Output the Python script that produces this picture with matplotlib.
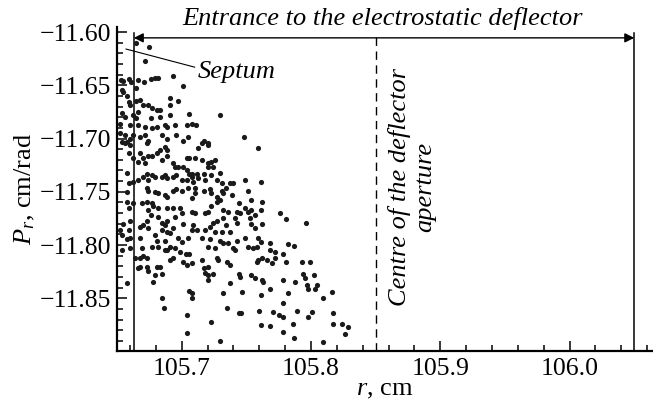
import numpy as np
import matplotlib.pyplot as plt
from matplotlib.ticker import MultipleLocator, FuncFormatter

plt.rcParams['font.family'] = ['Liberation Serif', 'DejaVu Serif']
plt.rcParams['mathtext.fontset'] = 'custom'
plt.rcParams['mathtext.rm'] = 'Liberation Serif'
plt.rcParams['mathtext.it'] = 'Liberation Serif:italic'

# particle coordinates (r, cm ; P_r, cm/rad) at the deflector entrance
upper_left = [
    (105.665, -11.610), (105.675, -11.614), (105.672, -11.627), (105.653, -11.645),
    (105.655, -11.646), (105.659, -11.644), (105.661, -11.647), (105.666, -11.645),
    (105.671, -11.647), (105.676, -11.644), (105.679, -11.643), (105.682, -11.643),
    (105.693, -11.641), (105.701, -11.651), (105.665, -11.653), (105.654, -11.654),
    (105.655, -11.656), (105.658, -11.660), (105.691, -11.662), (105.697, -11.665),
    (105.691, -11.669), (105.659, -11.666), (105.660, -11.669), (105.665, -11.665),
    (105.668, -11.664), (105.670, -11.669), (105.674, -11.669), (105.677, -11.671),
    (105.681, -11.673), (105.683, -11.673), (105.654, -11.676), (105.656, -11.680),
    (105.662, -11.678), (105.665, -11.681), (105.666, -11.675), (105.676, -11.681),
    (105.683, -11.680), (105.691, -11.678), (105.706, -11.677), (105.652, -11.686),
    (105.660, -11.687), (105.666, -11.687), (105.672, -11.689), (105.677, -11.690),
    (105.681, -11.689), (105.687, -11.687), (105.689, -11.689), (105.695, -11.687),
    (105.704, -11.687), (105.708, -11.686), (105.652, -11.695), (105.656, -11.697),
    (105.660, -11.700), (105.662, -11.697), (105.668, -11.699), (105.672, -11.697),
    (105.674, -11.702), (105.685, -11.697), (105.689, -11.700), (105.696, -11.697),
    (105.701, -11.702), (105.705, -11.699), (105.656, -11.704), (105.673, -11.704),
    (105.711, -11.687), (105.730, -11.678), (105.717, -11.702), (105.720, -11.704),
    (105.748, -11.699),
]

middle_left = [
    (105.654, -11.703), (105.658, -11.703), (105.660, -11.706), (105.659, -11.714),
    (105.662, -11.718), (105.668, -11.714), (105.666, -11.722), (105.670, -11.718),
    (105.672, -11.723), (105.674, -11.716), (105.677, -11.716), (105.681, -11.714),
    (105.683, -11.711), (105.687, -11.708), (105.689, -11.711), (105.689, -11.716),
    (105.685, -11.720), (105.693, -11.723), (105.695, -11.727), (105.697, -11.727),
    (105.701, -11.727), (105.704, -11.730), (105.706, -11.733), (105.704, -11.718),
    (105.706, -11.718), (105.658, -11.732), (105.659, -11.742), (105.658, -11.750),
    (105.662, -11.741), (105.666, -11.739), (105.670, -11.736), (105.673, -11.733),
    (105.674, -11.739), (105.677, -11.734), (105.679, -11.736), (105.685, -11.736),
    (105.687, -11.734), (105.689, -11.737), (105.693, -11.736), (105.696, -11.734),
    (105.700, -11.739), (105.704, -11.739), (105.708, -11.736), (105.673, -11.746),
    (105.674, -11.749), (105.679, -11.750), (105.682, -11.751), (105.687, -11.753),
    (105.689, -11.755), (105.693, -11.749), (105.696, -11.747), (105.700, -11.749),
    (105.705, -11.746), (105.708, -11.756), (105.658, -11.760), (105.659, -11.765),
    (105.662, -11.761), (105.669, -11.761), (105.673, -11.760), (105.674, -11.767),
    (105.677, -11.761), (105.678, -11.763), (105.682, -11.765), (105.689, -11.765),
    (105.693, -11.765), (105.699, -11.765), (105.700, -11.770), (105.695, -11.774),
    (105.689, -11.777), (105.685, -11.779), (105.682, -11.774), (105.676, -11.772),
    (105.673, -11.777), (105.670, -11.781), (105.668, -11.783), (105.674, -11.784),
    (105.660, -11.777), (105.655, -11.780), (105.652, -11.786), (105.659, -11.786),
    (105.654, -11.791), (105.660, -11.793), (105.658, -11.794), (105.668, -11.793),
    (105.687, -11.781), (105.685, -11.786), (105.689, -11.788), (105.691, -11.789),
    (105.693, -11.784), (105.697, -11.793), (105.700, -11.797), (105.679, -11.791),
    (105.681, -11.796), (105.687, -11.796), (105.691, -11.802), (105.682, -11.802),
    (105.677, -11.802), (105.669, -11.803), (105.660, -11.803), (105.705, -11.793),
    (105.708, -11.786), (105.701, -11.780),
]

middle_right = [
    (105.716, -11.704), (105.720, -11.706), (105.713, -11.709), (105.759, -11.709),
    (105.710, -11.718), (105.716, -11.720), (105.720, -11.723), (105.723, -11.722),
    (105.726, -11.720), (105.720, -11.727), (105.724, -11.727), (105.708, -11.733),
    (105.712, -11.733), (105.717, -11.733), (105.723, -11.734), (105.730, -11.732),
    (105.709, -11.741), (105.713, -11.737), (105.718, -11.739), (105.727, -11.739),
    (105.731, -11.742), (105.737, -11.742), (105.740, -11.742), (105.749, -11.739),
    (105.761, -11.741), (105.710, -11.746), (105.710, -11.751), (105.717, -11.749),
    (105.722, -11.747), (105.723, -11.751), (105.727, -11.755), (105.731, -11.749),
    (105.732, -11.751), (105.734, -11.746), (105.730, -11.758), (105.727, -11.760),
    (105.723, -11.763), (105.739, -11.753), (105.751, -11.749), (105.754, -11.758),
    (105.762, -11.760), (105.744, -11.761), (105.749, -11.765), (105.708, -11.769),
    (105.710, -11.770), (105.718, -11.770), (105.720, -11.769), (105.732, -11.767),
    (105.736, -11.769), (105.743, -11.769), (105.745, -11.770), (105.741, -11.775),
    (105.751, -11.769), (105.754, -11.767), (105.757, -11.772), (105.761, -11.767),
    (105.753, -11.775), (105.754, -11.780), (105.757, -11.784), (105.762, -11.780),
    (105.709, -11.781), (105.712, -11.786), (105.718, -11.786), (105.722, -11.783),
    (105.724, -11.779), (105.727, -11.777), (105.732, -11.775), (105.734, -11.781),
    (105.726, -11.788), (105.731, -11.788), (105.737, -11.788), (105.743, -11.779),
    (105.716, -11.793), (105.722, -11.794), (105.730, -11.796), (105.732, -11.798),
    (105.736, -11.798), (105.743, -11.796), (105.749, -11.793), (105.759, -11.793),
    (105.761, -11.797), (105.758, -11.802), (105.751, -11.802), (105.768, -11.798),
    (105.720, -11.802), (105.726, -11.803), (105.741, -11.805), (105.755, -11.803),
    (105.776, -11.770), (105.781, -11.776), (105.796, -11.779), (105.782, -11.799),
    (105.787, -11.801),
]

lower = [
    (105.654, -11.805), (105.664, -11.812), (105.668, -11.812), (105.670, -11.810),
    (105.673, -11.812), (105.666, -11.822), (105.668, -11.821), (105.673, -11.821),
    (105.674, -11.824), (105.681, -11.821), (105.683, -11.821), (105.679, -11.828),
    (105.685, -11.827), (105.678, -11.835), (105.658, -11.836), (105.687, -11.805),
    (105.689, -11.805), (105.691, -11.814), (105.693, -11.812), (105.695, -11.803),
    (105.699, -11.807), (105.703, -11.808), (105.701, -11.816), (105.704, -11.819),
    (105.706, -11.808), (105.708, -11.817), (105.716, -11.814), (105.717, -11.822),
    (105.720, -11.821), (105.718, -11.826), (105.720, -11.828), (105.720, -11.833),
    (105.724, -11.827), (105.727, -11.812), (105.728, -11.814), (105.735, -11.816),
    (105.737, -11.819), (105.740, -11.803), (105.744, -11.827), (105.745, -11.830),
    (105.737, -11.836), (105.754, -11.828), (105.757, -11.831), (105.762, -11.833),
    (105.763, -11.835), (105.758, -11.816), (105.759, -11.814), (105.762, -11.812),
    (105.766, -11.814), (105.770, -11.817), (105.768, -11.805), (105.772, -11.807),
    (105.772, -11.812), (105.778, -11.808), (105.781, -11.816), (105.768, -11.841),
    (105.778, -11.833), (105.782, -11.845), (105.788, -11.835), (105.793, -11.816),
    (105.794, -11.827), (105.799, -11.816), (105.797, -11.838), (105.798, -11.841),
    (105.802, -11.828), (105.803, -11.841), (105.805, -11.838), (105.809, -11.850),
    (105.816, -11.844), (105.795, -11.831), (105.685, -11.850), (105.686, -11.859),
    (105.706, -11.843), (105.708, -11.845), (105.708, -11.850), (105.704, -11.866),
    (105.704, -11.883), (105.723, -11.872), (105.732, -11.845), (105.735, -11.859),
    (105.744, -11.864), (105.746, -11.864), (105.747, -11.844), (105.761, -11.847),
    (105.760, -11.862), (105.761, -11.875), (105.768, -11.876), (105.771, -11.863),
    (105.775, -11.866), (105.778, -11.868), (105.778, -11.854), (105.778, -11.882),
    (105.786, -11.874), (105.787, -11.887), (105.789, -11.862), (105.798, -11.868),
    (105.801, -11.863), (105.809, -11.891), (105.817, -11.864), (105.817, -11.874),
    (105.824, -11.874), (105.826, -11.884), (105.730, -11.890), (105.829, -11.877),
]

septum_r = 105.663
aperture_centre_r = 105.85
deflector_end_r = 106.05

points = np.array(upper_left + middle_left + middle_right + lower)

fig = plt.figure(figsize=(6.53, 4.09), dpi=100)
ax = fig.add_axes([0.1792, 0.1418, 0.8208, 0.7922])

ax.scatter(points[:, 0], points[:, 1], s=14, c='#1a1a1a', marker='o', linewidths=0, zorder=3)

y_bottom = -11.8995
y_top = -11.601
ax.set_xlim(105.65, 106.0645)
ax.set_ylim(y_bottom, -11.5953)

ax.plot([septum_r, septum_r], [y_bottom, y_top], color='black', lw=1.1)
ax.plot([deflector_end_r, deflector_end_r], [y_bottom, y_top], color='black', lw=1.1)
ax.plot([aperture_centre_r, aperture_centre_r], [y_bottom, y_top], color='black',
        lw=1.0, dashes=(6, 4))

ax.annotate('', xy=(septum_r, -11.6055), xytext=(deflector_end_r, -11.6055),
            arrowprops=dict(arrowstyle='<|-|>', color='black', lw=1.0,
                            mutation_scale=14, shrinkA=0, shrinkB=0))
fig.text(383 / 653, 1 - 19 / 409, 'Entrance to the electrostatic deflector',
         ha='center', va='center', fontsize=19, style='italic')

ax.plot([105.657, 105.710], [-11.616, -11.633], color='black', lw=0.8)
ax.text(105.712, -11.638, 'Septum', ha='left', va='center', fontsize=19, style='italic')

ax.text(105.878, -11.7457, 'Centre of the deflector\naperture', rotation=90,
        ha='center', va='center', multialignment='center', fontsize=19,
        style='italic', linespacing=1.2)

for side in ['top', 'right']:
    ax.spines[side].set_visible(False)
for side in ['left', 'bottom']:
    ax.spines[side].set_linewidth(1.6)


def minus_fmt(decimals):
    return FuncFormatter(lambda v, pos: f'{v:.{decimals}f}'.replace('-', '\u2212'))


ax.xaxis.set_major_locator(MultipleLocator(0.1))
ax.xaxis.set_minor_locator(MultipleLocator(0.02))
ax.yaxis.set_major_locator(MultipleLocator(0.05))
ax.yaxis.set_minor_locator(MultipleLocator(0.01))
ax.xaxis.set_major_formatter(minus_fmt(1))
ax.yaxis.set_major_formatter(minus_fmt(2))
ax.tick_params(which='both', direction='in', labelsize=18.5, width=1.1)
ax.tick_params(which='major', length=7)
ax.tick_params(which='minor', length=4)
ax.tick_params(axis='x', pad=5)
ax.tick_params(axis='y', pad=4)

ax.set_xlabel('$r$, cm', fontsize=19, labelpad=-1)
ax.set_ylabel('$P_r$, cm/rad', fontsize=19, labelpad=2)

fig.savefig('out.png', dpi=100)
